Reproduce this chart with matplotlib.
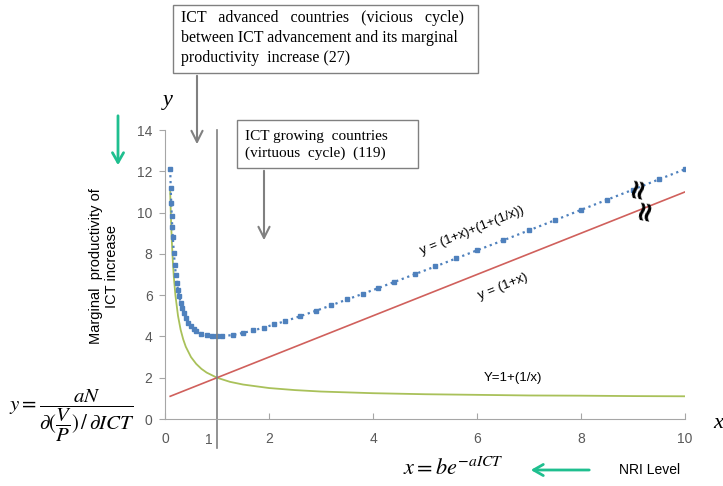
import matplotlib
matplotlib.use('Agg')
import matplotlib.pyplot as plt
from matplotlib.patches import Rectangle, FancyArrowPatch

# values
x_sum = [0.10, 0.11, 0.12, 0.13, 0.14, 0.15, 0.17, 0.19, 0.21, 0.23, 0.25, 0.27,
         0.30, 0.33, 0.36, 0.40, 0.45, 0.50, 0.55, 0.60, 0.70, 0.80, 0.90, 1.00,
         1.10, 1.30, 1.50, 1.70, 1.90, 2.10, 2.30, 2.60, 2.90, 3.20, 3.50, 3.80,
         4.10, 4.40, 4.80, 5.20, 5.60, 6.00, 6.50, 7.00, 7.50, 8.00, 8.50, 9.00,
         9.50, 10.0]
y_sum = [12.10, 11.20, 10.45, 9.82, 9.28, 8.82, 8.05, 7.45, 6.97, 6.58, 6.25, 5.97,
         5.63, 5.36, 5.14, 4.90, 4.67, 4.50, 4.37, 4.27, 4.13, 4.05, 4.01, 4.00,
         4.01, 4.07, 4.17, 4.29, 4.43, 4.58, 4.73, 4.98, 5.24, 5.51, 5.79, 6.06,
         6.34, 6.63, 7.01, 7.39, 7.78, 8.17, 8.65, 9.14, 9.63, 10.13, 10.62, 11.11,
         11.61, 12.10]

x_lin = [0.1, 10.0]
y_lin = [1.1, 11.0]

x_inv = [0.10, 0.11, 0.12, 0.13, 0.15, 0.17, 0.20, 0.25, 0.30, 0.35, 0.40, 0.50,
         0.60, 0.70, 0.80, 1.00, 1.25, 1.50, 2.00, 2.50, 3.00, 4.00, 5.00, 6.00,
         7.00, 8.00, 9.00, 10.0]
y_inv = [11.00, 10.09, 9.33, 8.69, 7.67, 6.88, 6.00, 5.00, 4.33, 3.86, 3.50, 3.00,
         2.67, 2.43, 2.25, 2.00, 1.80, 1.67, 1.50, 1.40, 1.33, 1.25, 1.20, 1.17,
         1.14, 1.13, 1.11, 1.10]

xticks = [0, 2, 4, 6, 8, 10]
yticks = [0, 2, 4, 6, 8, 10, 12, 14]

W, H = 723, 486
plt.rcParams['mathtext.fontset'] = 'stix'
fig = plt.figure(figsize=(W / 100, H / 100), dpi=100)
ax = fig.add_axes([165 / W, 1 - 419 / H, 520 / W, 289 / H])

def fx(px):
    return px / W

def fy(py):
    return 1 - py / H

grey = '#808080'
teal = '#1fbf8f'

ax.plot(x_inv, y_inv, color='#a9c15a', lw=1.3)
ax.plot(x_lin, y_lin, color='#d0605c', lw=1.2)
ax.plot(x_sum, y_sum, color='#4f81bd', ls=':', lw=1.6, marker='s', ms=2.3)

ax.plot([1, 1], [-1.4, 14], color=grey, lw=1.2, clip_on=False)

ax.set_xlim(0, 10)
ax.set_ylim(0, 14)
ax.set_xticks(xticks)
ax.set_yticks(yticks)
for s in ['top', 'right']:
    ax.spines[s].set_visible(False)
for s in ['left', 'bottom']:
    ax.spines[s].set_color('#a6a6a6')
ax.tick_params(axis='x', direction='in', length=4, color='#a6a6a6', pad=9,
               labelsize=10, labelcolor='#595959')
ax.tick_params(axis='y', direction='out', length=4, color='#a6a6a6', pad=5,
               labelsize=10, labelcolor='#595959')
for lab in ax.get_xticklabels() + ax.get_yticklabels():
    lab.set_family('Liberation Sans')

ax.text(0.85, -1.0, '1', fontsize=10, color='#595959', family='Liberation Sans',
        ha='center', va='center', clip_on=False)

# curve labels
ax.text(5.9, 9.1, 'y = (1+x)+(1+(1/x))', fontsize=9.5, rotation=22,
        family='Liberation Sans', ha='center', va='center')
ax.text(6.5, 6.4, 'y = (1+x)', fontsize=9.5, rotation=22,
        family='Liberation Sans', ha='center', va='center')
ax.text(6.7, 2.0, 'Y=1+(1/x)', fontsize=9.5, family='Liberation Sans',
        ha='center', va='center')
# break marks
fig.text(fx(637), fy(187), '\u2248', fontsize=20, fontweight='bold', rotation=80,
         ha='center', va='center', family='DejaVu Sans')
fig.text(fx(644), fy(209), '\u2248', fontsize=20, fontweight='bold', rotation=80,
         ha='center', va='center', family='DejaVu Sans')

# annotation boxes
fig.patches.append(Rectangle((fx(173), fy(73)), fx(305), 68 / H, transform=fig.transFigure,
                             fill=False, edgecolor='#808080', lw=1))
fig.text(fx(181), fy(38), 'ICT   advanced   countries   (vicious   cycle)\n'
         'between ICT advancement and its marginal\n'
         'productivity  increase (27)', fontsize=11.5, family='Liberation Serif',
         va='center', ha='left', linespacing=1.35)
fig.patches.append(Rectangle((fx(237), fy(168)), fx(181), 48 / H, transform=fig.transFigure,
                             fill=False, edgecolor='#808080', lw=1))
fig.text(fx(245), fy(145), 'ICT growing  countries\n(virtuous  cycle)  (119)',
         fontsize=11, family='Liberation Serif', va='center', ha='left',
         linespacing=1.35)

for (x0, y0, y1) in [(197, 73, 147), (264, 168, 243)]:
    fig.patches.append(FancyArrowPatch((fx(x0), fy(y0)), (fx(x0), fy(y1)),
                                       transform=fig.transFigure, arrowstyle='->,head_width=4,head_length=8',
                                       color=grey, lw=1.5, mutation_scale=1))

# green arrows
fig.patches.append(FancyArrowPatch((fx(118), fy(113)), (fx(118), fy(168)),
                                   transform=fig.transFigure, arrowstyle='->,head_width=4,head_length=7',
                                   color=teal, lw=2, mutation_scale=1))
fig.patches.append(FancyArrowPatch((fx(592), fy(470)), (fx(528), fy(470)),
                                   transform=fig.transFigure, arrowstyle='->,head_width=4,head_length=7',
                                   color=teal, lw=2, mutation_scale=1))

# axis labels and formulas
fig.text(fx(104), fy(266), 'Marginal  productivity of\nICT increase', rotation=90,
         fontsize=10.5, family='Liberation Sans', ha='center', va='center',
         linespacing=1.1)
fig.text(fx(168), fy(100), 'y', fontsize=16, style='italic', family='Liberation Serif',
         ha='center', va='center')
fig.text(fx(718), fy(423), 'x', fontsize=16, style='italic', family='Liberation Serif',
         ha='center', va='center')
fig.text(fx(72), fy(416), r'$y=\dfrac{aN}{\partial(\dfrac{V}{P})\,/\,\partial ICT}$',
         fontsize=15, ha='center', va='center')
fig.text(fx(453), fy(468), r'$x=be^{-aICT}$', fontsize=16, ha='center', va='center')
fig.text(fx(650), fy(470), 'NRI Level', fontsize=10, family='Liberation Sans',
         ha='center', va='center')

fig.savefig('out.png', dpi=100)
